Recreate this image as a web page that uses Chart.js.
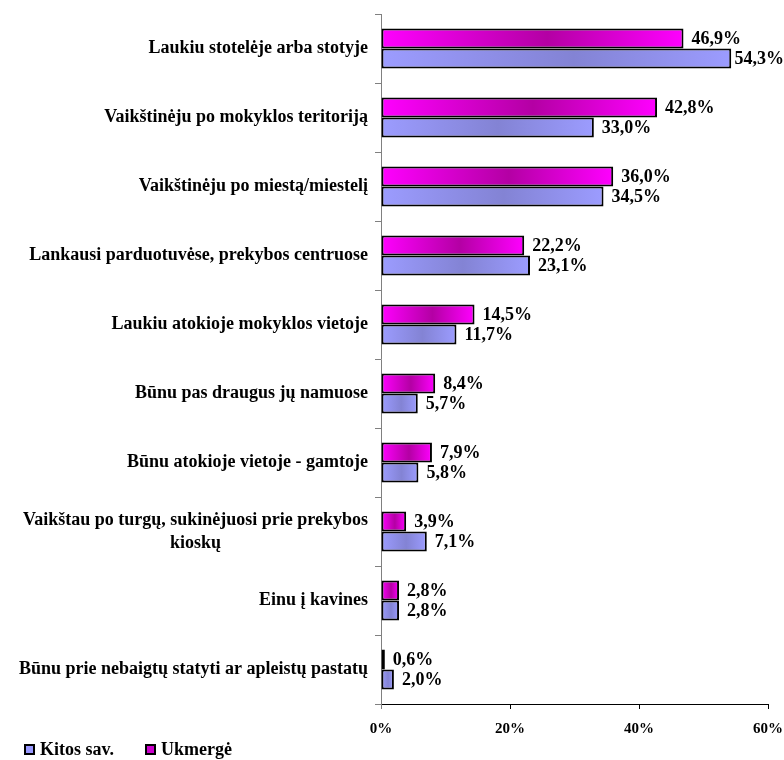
<!DOCTYPE html>
<html>
<head>
<meta charset="utf-8">
<script src="https://cdn.jsdelivr.net/npm/chart.js@4/dist/chart.umd.min.js"></script>
<style>
html,body{margin:0;padding:0;background:#fff;}
#wrap{width:784px;height:760px;position:relative;}
</style>
</head>
<body>
<div id="wrap"><canvas id="c" width="784" height="760"></canvas></div>
<script>
const categories = [
  ["Laukiu stotelėje arba stotyje"],
  ["Vaikštinėju po mokyklos teritoriją"],
  ["Vaikštinėju po miestą/miestelį"],
  ["Lankausi parduotuvėse, prekybos centruose"],
  ["Laukiu atokioje mokyklos vietoje"],
  ["Būnu pas draugus jų namuose"],
  ["Būnu atokioje vietoje - gamtoje"],
  ["Vaikštau po turgų, sukinėjuosi prie prekybos", "kioskų"],
  ["Einu į kavines"],
  ["Būnu prie nebaigtų statyti ar apleistų pastatų"]
];
const ukmerge = [46.9, 42.8, 36.0, 22.2, 14.5, 8.4, 7.9, 3.9, 2.8, 0.6];
const kitos = [54.3, 33.0, 34.5, 23.1, 11.7, 5.7, 5.8, 7.1, 2.8, 2.0];
const xTicks = [0, 20, 40, 60];
const seriesNames = ["Ukmergė", "Kitos sav."];

const SERIF = '"Liberation Serif","Times New Roman",serif';

function grad(light, dark) {
  return function(ctx) {
    const chart = ctx.chart;
    if (!chart.chartArea || ctx.raw === undefined) return light;
    const xs = chart.scales.x;
    const x0 = xs.getPixelForValue(0);
    const x1 = xs.getPixelForValue(ctx.raw);
    if (!isFinite(x0) || !isFinite(x1) || x1 - x0 < 1) return dark;
    const g = chart.ctx.createLinearGradient(x0, 0, x1, 0);
    g.addColorStop(0, light);
    g.addColorStop(0.55, dark);
    g.addColorStop(1, light);
    return g;
  };
}

const fmt = v => v.toFixed(1).replace('.', ',') + '%';

const labelPlugin = {
  id: 'customLabels',
  afterDatasetsDraw(chart) {
    const c = chart.ctx;
    c.save();
    c.font = 'bold 18px ' + SERIF;
    c.fillStyle = '#000';
    c.textBaseline = 'middle';
    c.textAlign = 'left';
    chart.data.datasets.forEach((ds, di) => {
      const meta = chart.getDatasetMeta(di);
      meta.data.forEach((el, i) => {
        const t = fmt(ds.data[i]);
        const w = c.measureText(t).width;
        const x = Math.min(el.x + 8, chart.width - w);
        c.fillText(t, x, el.y + 1);
      });
    });
    c.restore();
  },
  afterDraw(chart) {
    const c = chart.ctx;
    const ys = chart.scales.y;
    const area = chart.chartArea;
    c.save();
    c.strokeStyle = '#808080';
    c.lineWidth = 1;
    c.beginPath();
    c.moveTo(area.left + 0.5, area.bottom);
    c.lineTo(area.left + 0.5, area.bottom + 5);
    c.stroke();

    c.font = 'bold 18px ' + SERIF;
    c.fillStyle = '#000';
    c.textBaseline = 'middle';
    c.textAlign = 'center';
    const right = ys.right - 13;
    const lh = 23;
    categories.forEach((lines, i) => {
      const yc = ys.getPixelForValue(i);
      const w = Math.max(...lines.map(l => c.measureText(l).width));
      const cx = right - w / 2;
      const y0 = yc - (lines.length - 1) * lh / 2;
      lines.forEach((l, k) => c.fillText(l, cx, y0 + k * lh));
    });
    const items = [
      {name: seriesNames[1], color: '#9999FF'},
      {name: seriesNames[0], color: '#CC00CC'}
    ];
    c.font = 'bold 18px ' + SERIF;
    c.textAlign = 'left';
    const ly = 750;
    const xs = [25, 146];
    items.forEach((it, k) => {
      const x = xs[k];
      c.fillStyle = it.color;
      c.fillRect(x, ly - 5, 9, 9);
      c.strokeStyle = '#000';
      c.lineWidth = 2;
      c.strokeRect(x, ly - 5, 9, 9);
      c.fillStyle = '#000';
      c.fillText(it.name, x + 15, ly);
    });
    c.restore();
  }
};

new Chart(document.getElementById('c'), {
  type: 'bar',
  data: {
    labels: categories.map(l => l.join(' ')),
    datasets: [
      {
        label: seriesNames[0],
        data: ukmerge,
        backgroundColor: grad('#FF00FF', '#B400A4'),
        borderColor: '#000',
        borderWidth: 2,
        borderSkipped: false,
        categoryPercentage: 0.58,
        barPercentage: 1.0
      },
      {
        label: seriesNames[1],
        data: kitos,
        backgroundColor: grad('#9C9CFF', '#8383D4'),
        borderColor: '#000',
        borderWidth: 2,
        borderSkipped: false,
        categoryPercentage: 0.58,
        barPercentage: 1.0
      }
    ]
  },
  options: {
    indexAxis: 'y',
    responsive: false,
    animation: false,
    events: [],
    layout: { padding: { top: 14, right: 16, left: 0, bottom: 0 } },
    plugins: {
      legend: { display: false },
      tooltip: { enabled: false }
    },
    scales: {
      x: {
        min: 0, max: 60,
        afterBuildTicks: s => { s.ticks = xTicks.map(v => ({ value: v })); },
        afterFit: s => { s.height = 56; s.paddingLeft = 0; s.paddingRight = 0; },
        ticks: {
          callback: v => v + '%',
          font: { family: SERIF, size: 15, weight: 'bold' },
          color: '#000',
          padding: 11,
          maxRotation: 0
        },
        grid: { drawOnChartArea: false, tickLength: 5, color: '#000', lineWidth: 1 },
        border: { color: '#000', width: 1 }
      },
      y: {
        offset: true,
        afterFit: s => { s.width = 381; s.paddingTop = 0; s.paddingBottom = 0; },
        ticks: { display: false },
        grid: { offset: true, drawOnChartArea: false, tickLength: 6, color: '#808080', lineWidth: 1 },
        border: { color: '#808080', width: 1 }
      }
    }
  },
  plugins: [labelPlugin]
});
</script>
</body>
</html>
